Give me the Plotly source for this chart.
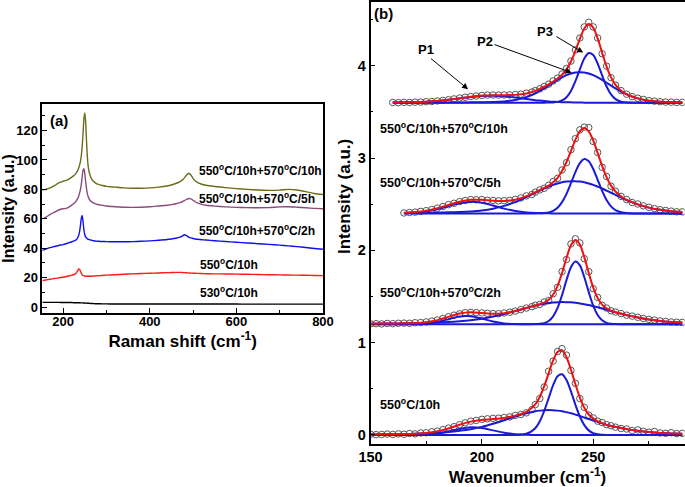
import plotly.graph_objects as go

# ================= Panel (a): Raman spectra =================
raman_shift = [152, 160, 170, 180, 190, 200, 205, 210, 215, 220, 224, 228, 230, 232, 234, 236, 238, 240,
               242, 244, 246, 248, 250, 252, 254, 256, 258, 260, 263, 266, 270, 275, 280, 290, 300, 320,
               340, 360, 380, 400, 420, 440, 450, 460, 470, 475, 480, 485, 490, 495, 500, 505, 510, 520,
               530, 550, 575, 600, 625, 650, 675, 700, 720, 740, 760, 780, 800]

int_530_10h = [3.2, 3.2, 3.2, 3.2, 3.2, 3.1, 3.1, 3.1, 3.1, 3.1, 3.0, 3.0, 3.0, 3.0, 3.0, 3.0, 3.0, 2.9,
               2.9, 2.9, 2.8, 2.8, 2.8, 2.7, 2.7, 2.6, 2.6, 2.6, 2.5, 2.5, 2.4, 2.3, 2.3, 2.2, 2.2, 2.1,
               2.1, 2.1, 2.1, 2.1, 2.1, 2.1, 2.1, 2.1, 2.1, 2.1, 2.1, 2.1, 2.1, 2.1, 2.1, 2.1, 2.1, 2.1,
               2.1, 2.1, 2.1, 2.1, 2.0, 2.0, 2.0, 2.0, 2.0, 2.0, 2.0, 2.0, 2.0]

int_550_10h = [18.0, 18.4, 18.9, 19.4, 19.9, 20.3, 20.6, 21.0, 21.3, 21.7, 22.0, 22.6, 23.1, 24.0, 25.0, 25.9, 25.7, 24.4,
               23.0, 22.0, 21.5, 21.2, 21.1, 21.0, 21.0, 21.0, 21.0, 21.0, 21.0, 21.0, 21.1, 21.2, 21.3, 21.5, 21.7, 22.0,
               22.3, 22.6, 22.8, 23.0, 23.2, 23.4, 23.5, 23.6, 23.6, 23.5, 23.4, 23.3, 23.2, 23.1, 23.0, 23.0, 22.9, 22.8,
               22.7, 22.6, 22.5, 22.4, 22.3, 22.2, 22.0, 21.9, 21.8, 21.7, 21.6, 21.5, 21.4]

int_570_2h = [38.5, 39.4, 40.4, 41.2, 41.9, 42.5, 42.9, 43.4, 43.9, 44.4, 44.9, 45.4, 45.8, 46.4, 47.3, 48.8, 51.3, 55.5,
              60.5, 62.2, 58.0, 52.5, 49.3, 47.7, 46.9, 46.4, 46.1, 45.9, 45.6, 45.4, 45.1, 44.9, 44.8, 44.6, 44.5, 44.4,
              44.4, 44.5, 44.7, 45.0, 45.4, 45.9, 46.3, 46.8, 47.6, 48.3, 49.2, 48.6, 47.6, 47.0, 46.6, 46.3, 46.1, 45.8,
              45.6, 45.1, 44.6, 44.1, 43.6, 43.1, 42.6, 42.1, 41.6, 41.1, 40.5, 39.8, 39.3]

int_570_5h = [60.0, 61.0, 63.0, 64.5, 66.0, 66.8, 67.0, 67.5, 68.3, 69.3, 70.2, 71.2, 72.0, 73.0, 74.0, 75.5, 77.5, 80.0,
              83.5, 88.5, 93.0, 94.0, 91.0, 85.5, 80.5, 77.0, 75.0, 73.5, 72.3, 71.5, 70.8, 70.2, 69.7, 69.2, 68.7, 68.2,
              67.9, 67.8, 67.9, 68.2, 68.7, 69.2, 69.6, 70.2, 71.0, 71.6, 72.4, 73.2, 73.8, 73.5, 72.6, 71.6, 70.8, 69.8,
              69.2, 68.6, 68.1, 67.8, 67.6, 67.5, 67.6, 68.1, 68.2, 67.9, 67.5, 67.1, 66.8]

int_570_10h = [79.5, 80.0, 81.0, 82.5, 84.5, 85.5, 86.0, 86.5, 87.3, 88.3, 89.2, 90.2, 91.0, 92.0, 93.0, 94.5, 96.5, 99.0,
               103.0, 109.0, 118.0, 128.0, 132.0, 126.0, 113.0, 102.0, 95.5, 92.0, 89.0, 87.0, 85.5, 84.3, 83.5, 82.7, 82.0, 81.5,
               81.0, 80.8, 80.8, 81.0, 81.5, 82.3, 83.0, 84.0, 85.3, 86.3, 87.8, 89.8, 91.0, 89.8, 87.5, 85.8, 84.8, 83.5,
               82.8, 82.0, 81.2, 80.5, 80.0, 79.6, 79.3, 79.5, 80.0, 79.6, 78.5, 77.2, 76.5]

labels_a = ["530<sup>o</sup>C/10h", "550<sup>o</sup>C/10h", "550<sup>o</sup>C/10h+570<sup>o</sup>C/2h",
            "550<sup>o</sup>C/10h+570<sup>o</sup>C/5h", "550<sup>o</sup>C/10h+570<sup>o</sup>C/10h"]
label_a_x = [512, 512, 510, 508, 508]
label_a_y = [10.2, 29.3, 52.4, 74.1, 93.2]

# ================= Panel (b): fitted peaks =================
wavenumber = [150, 155, 160, 165, 170, 175, 180, 185, 190, 195, 200, 205, 210, 215, 220,
              224, 226, 228, 230, 232, 234, 236, 238, 240, 242, 244, 246, 248, 250, 252, 254, 256, 258, 260,
              263, 266, 270, 275, 280, 285, 290]

offsets_b = [0.0, 1.2, 2.4, 3.6]

# 550C/10h
p1_550 = [0, 0, 0, 0, 0.001, 0.005, 0.017, 0.039, 0.066, 0.083, 0.075, 0.050, 0.025, 0.009, 0.002,
          0.001, 0, 0, 0, 0, 0, 0, 0, 0, 0, 0, 0, 0, 0, 0, 0, 0, 0, 0,
          0, 0, 0, 0, 0, 0, 0]
p2_550 = [0.006, 0.007, 0.008, 0.010, 0.013, 0.017, 0.023, 0.032, 0.045, 0.062, 0.088, 0.122, 0.160, 0.201, 0.236,
          0.257, 0.264, 0.269, 0.270, 0.269, 0.264, 0.257, 0.247, 0.236, 0.221, 0.206, 0.189, 0.172, 0.160, 0.141, 0.126, 0.110, 0.097, 0.088,
          0.072, 0.058, 0.045, 0.032, 0.023, 0.017, 0.013]
p3_550 = [0, 0, 0, 0, 0, 0, 0, 0, 0, 0, 0, 0, 0, 0, 0.013,
          0.074, 0.148, 0.260, 0.400, 0.539, 0.636, 0.657, 0.595, 0.472, 0.328, 0.200, 0.107, 0.050, 0.020, 0.007, 0.002, 0, 0, 0,
          0, 0, 0, 0, 0, 0, 0]
fit_550 = [0.006, 0.007, 0.008, 0.010, 0.014, 0.022, 0.040, 0.071, 0.111, 0.145, 0.163, 0.172, 0.185, 0.210, 0.251,
           0.332, 0.412, 0.529, 0.670, 0.808, 0.900, 0.918, 0.842, 0.708, 0.549, 0.406, 0.296, 0.222, 0.180, 0.148, 0.128, 0.110, 0.097, 0.088,
           0.072, 0.058, 0.045, 0.032, 0.023, 0.017, 0.013]

# 550C/10h + 570C/2h
p1_2h = [0, 0, 0, 0, 0.001, 0.007, 0.024, 0.055, 0.084, 0.087, 0.061, 0.029, 0.009, 0.002, 0,
         0, 0, 0, 0, 0, 0, 0, 0, 0, 0, 0, 0, 0, 0, 0, 0, 0, 0, 0,
         0, 0, 0, 0, 0, 0, 0]
p2_2h = [0.006, 0.007, 0.008, 0.010, 0.012, 0.015, 0.019, 0.024, 0.032, 0.043, 0.060, 0.083, 0.111, 0.142, 0.176,
         0.201, 0.212, 0.221, 0.229, 0.235, 0.238, 0.240, 0.239, 0.237, 0.232, 0.225, 0.217, 0.207, 0.195, 0.183, 0.170, 0.156, 0.142, 0.128,
         0.111, 0.093, 0.072, 0.051, 0.035, 0.025, 0.018]
p3_2h = [0, 0, 0, 0, 0, 0, 0, 0, 0, 0, 0, 0, 0, 0, 0,
         0.001, 0.004, 0.012, 0.035, 0.085, 0.177, 0.315, 0.478, 0.617, 0.679, 0.637, 0.509, 0.347, 0.201, 0.100, 0.042, 0.015, 0.005, 0.001,
         0, 0, 0, 0, 0, 0, 0]
fit_2h = [0.006, 0.007, 0.008, 0.010, 0.013, 0.022, 0.043, 0.079, 0.116, 0.130, 0.121, 0.112, 0.120, 0.144, 0.176,
          0.202, 0.216, 0.233, 0.264, 0.320, 0.415, 0.555, 0.717, 0.854, 0.911, 0.862, 0.726, 0.554, 0.396, 0.283, 0.212, 0.171, 0.147, 0.129,
          0.111, 0.093, 0.072, 0.051, 0.035, 0.025, 0.018]

# 550C/10h + 570C/5h
p1_5h = [None, None, None, 0.003, 0.009, 0.022, 0.047, 0.080, 0.111, 0.125, 0.115, 0.085, 0.052, 0.026, 0.010,
         0.004, 0.003, 0.002, 0.001, 0, 0, 0, 0, 0, 0, 0, 0, 0, 0, 0, 0, 0, 0, 0,
         0, 0, 0, 0, 0, 0, 0]
p2_5h = [None, None, None, 0.005, 0.006, 0.007, 0.009, 0.012, 0.016, 0.022, 0.032, 0.051, 0.082, 0.123, 0.177,
         0.224, 0.247, 0.270, 0.290, 0.309, 0.324, 0.337, 0.345, 0.349, 0.349, 0.345, 0.337, 0.324, 0.309, 0.290, 0.270, 0.247, 0.224, 0.201,
         0.166, 0.134, 0.098, 0.063, 0.039, 0.024, 0.016]
p3_5h = [None, None, None, 0, 0, 0, 0, 0, 0, 0, 0, 0, 0, 0, 0,
         0, 0.001, 0.004, 0.011, 0.028, 0.062, 0.122, 0.212, 0.327, 0.448, 0.545, 0.589, 0.565, 0.481, 0.364, 0.244, 0.146, 0.077, 0.036,
         0.009, 0.002, 0, 0, 0, 0, 0]
fit_5h = [None, None, None, 0.008, 0.015, 0.029, 0.056, 0.092, 0.127, 0.147, 0.147, 0.136, 0.134, 0.149, 0.187,
          0.228, 0.251, 0.276, 0.302, 0.337, 0.386, 0.459, 0.557, 0.676, 0.797, 0.890, 0.926, 0.889, 0.790, 0.654, 0.514, 0.393, 0.301, 0.237,
          0.175, 0.136, 0.098, 0.063, 0.039, 0.024, 0.016]

# 550C/10h + 570C/10h
p1_10h = [None, None, 0.001, 0.002, 0.004, 0.009, 0.017, 0.030, 0.046, 0.061, 0.072, 0.075, 0.068, 0.055, 0.039,
          0.027, 0.022, 0.017, 0.013, 0.010, 0.008, 0.005, 0.004, 0.003, 0.002, 0.001, 0, 0, 0, 0, 0, 0, 0, 0,
          0, 0, 0, 0, 0, 0, 0]
p2_10h = [None, None, 0.001, 0.001, 0.001, 0.001, 0.001, 0.002, 0.002, 0.003, 0.004, 0.006, 0.013, 0.029, 0.060,
          0.101, 0.127, 0.155, 0.185, 0.215, 0.246, 0.273, 0.297, 0.315, 0.326, 0.330, 0.326, 0.315, 0.297, 0.273, 0.246, 0.215, 0.185, 0.155,
          0.113, 0.079, 0.046, 0.021, 0.009, 0.004, 0.002]
p3_10h = [None, None, 0, 0, 0, 0, 0, 0, 0, 0, 0, 0, 0, 0, 0,
          0, 0, 0, 0.001, 0.002, 0.008, 0.024, 0.059, 0.127, 0.232, 0.360, 0.477, 0.537, 0.516, 0.423, 0.295, 0.175, 0.089, 0.038,
          0.008, 0.001, 0, 0, 0, 0, 0]
fit_10h = [None, None, 0.002, 0.003, 0.005, 0.010, 0.018, 0.032, 0.048, 0.064, 0.076, 0.081, 0.081, 0.084, 0.099,
           0.128, 0.149, 0.172, 0.199, 0.227, 0.262, 0.302, 0.360, 0.445, 0.560, 0.691, 0.803, 0.852, 0.813, 0.696, 0.541, 0.390, 0.274, 0.193,
           0.121, 0.080, 0.046, 0.021, 0.009, 0.004, 0.002]

# measured points (open circles)
wavenumber_meas = [150, 152.5, 155, 157.5, 160, 162.5, 165, 167.5, 170, 172.5, 175, 177.5, 180, 182.5, 185, 187.5,
                   190, 192.5, 195, 197.5, 200, 202.5, 205, 207.5, 210, 212.5, 215, 217.5, 220, 222.5,
                   224, 226, 228, 230, 232, 234, 236, 238, 240, 242, 244, 246, 248, 250, 252, 254, 256, 258, 260,
                   262.5, 265, 267.5, 270, 272.5, 275, 277.5, 280, 282.5, 285, 287.5, 290]

meas_550 = [0.008, 0.004, 0.006, 0.010, 0.006, 0.012, 0.008, 0.016, 0.012, 0.022, 0.024, 0.035, 0.042, 0.058, 0.075, 0.090,
            0.112, 0.132, 0.150, 0.158, 0.170, 0.175, 0.180, 0.182, 0.190, 0.196, 0.212, 0.222, 0.240, 0.275,
            0.330, 0.395, 0.520, 0.690, 0.800, 0.905, 0.935, 0.865, 0.700, 0.560, 0.395, 0.300, 0.215, 0.185, 0.150, 0.135, 0.112, 0.100, 0.085,
            0.070, 0.065, 0.048, 0.055, 0.040, 0.030, 0.038, 0.022, 0.018, 0.025, 0.015, 0.018]
meas_2h = [0.004, 0.006, 0.003, 0.008, 0.006, 0.010, 0.012, 0.010, 0.016, 0.018, 0.025, 0.034, 0.045, 0.062, 0.080, 0.098,
           0.112, 0.125, 0.128, 0.126, 0.122, 0.118, 0.115, 0.114, 0.122, 0.130, 0.142, 0.158, 0.175, 0.190,
           0.205, 0.214, 0.240, 0.255, 0.330, 0.400, 0.570, 0.700, 0.870, 0.925, 0.880, 0.710, 0.570, 0.385, 0.290, 0.205, 0.175, 0.145, 0.132,
           0.115, 0.098, 0.088, 0.075, 0.062, 0.052, 0.045, 0.036, 0.030, 0.024, 0.022, 0.020]
meas_5h = [None, None, None, None, None, None, 0.005, 0.010, 0.014, 0.022, 0.030, 0.042, 0.058, 0.075, 0.095, 0.110,
           0.128, 0.140, 0.150, 0.148, 0.150, 0.142, 0.140, 0.136, 0.138, 0.142, 0.152, 0.168, 0.190, 0.205,
           0.230, 0.255, 0.272, 0.305, 0.345, 0.380, 0.470, 0.550, 0.690, 0.810, 0.905, 0.935, 0.930, 0.780, 0.660, 0.500, 0.400, 0.295, 0.240,
           0.185, 0.150, 0.118, 0.102, 0.082, 0.066, 0.052, 0.040, 0.032, 0.025, 0.018, 0.017]
meas_10h = [None, None, None, None, 0.002, 0.000, 0.003, 0.002, 0.005, 0.006, 0.010, 0.012, 0.018, 0.024, 0.032, 0.040,
            0.050, 0.058, 0.066, 0.072, 0.078, 0.082, 0.083, 0.082, 0.083, 0.084, 0.088, 0.092, 0.102, 0.115,
            0.130, 0.150, 0.175, 0.200, 0.235, 0.265, 0.310, 0.370, 0.450, 0.570, 0.700, 0.820, 0.870, 0.820, 0.700, 0.530, 0.395, 0.270, 0.190,
            0.130, 0.092, 0.065, 0.048, 0.035, 0.022, 0.016, 0.010, 0.006, 0.005, 0.002, 0.003]

labels_b = ["550<sup>o</sup>C/10h", "550<sup>o</sup>C/10h+570<sup>o</sup>C/2h",
            "550<sup>o</sup>C/10h+570<sup>o</sup>C/5h", "550<sup>o</sup>C/10h+570<sup>o</sup>C/10h"]
label_b_y = [0.336, 1.549, 2.741, 3.326]

peak_names = ["P1", "P2", "P3"]
peak_label_x = [174.8, 201.3, 228.2]
peak_label_y = [4.171, 4.261, 4.37]
arrow_tail_x = [176.5, 205.0, 232.8]
arrow_tail_y = [4.09, 4.235, 4.325]
arrow_head_x = [193.8, 240.3, 245.5]
arrow_head_y = [3.745, 3.925, 4.142]

# ================= Build figure =================
FONT = "Liberation Sans"
fig = go.Figure()

colors_a = ["#000000", "#ff1a1a", "#1010ee", "#8a4a7c", "#6b6b1a"]
series_a = [int_530_10h, int_550_10h, int_570_2h, int_570_5h, int_570_10h]
for ys, col in zip(series_a, colors_a):
    fig.add_trace(go.Scatter(x=raman_shift, y=ys, mode="lines",
                             line=dict(color=col, width=1.4, shape="spline", smoothing=0.6),
                             xaxis="x", yaxis="y", showlegend=False, hoverinfo="skip"))

def shifted(vals, off):
    return [None if v is None else v + off for v in vals]

meas_sets = [meas_550, meas_2h, meas_5h, meas_10h]
comp_sets = [[p1_550, p2_550, p3_550], [p1_2h, p2_2h, p3_2h], [p1_5h, p2_5h, p3_5h], [p1_10h, p2_10h, p3_10h]]
fit_sets = [fit_550, fit_2h, fit_5h, fit_10h]

for meas, comps, fit, off in zip(meas_sets, comp_sets, fit_sets, offsets_b):
    fig.add_trace(go.Scatter(x=wavenumber_meas, y=shifted(meas, off), mode="markers",
                             marker=dict(symbol="circle-open", size=6.5, color="#555555", line=dict(width=1)),
                             xaxis="x2", yaxis="y2", showlegend=False, hoverinfo="skip"))
    for comp in comps:
        fig.add_trace(go.Scatter(x=wavenumber, y=shifted(comp, off), mode="lines",
                                 line=dict(color="#1a1ad6", width=2, shape="spline", smoothing=0.8),
                                 xaxis="x2", yaxis="y2", showlegend=False, hoverinfo="skip"))
    fig.add_trace(go.Scatter(x=wavenumber, y=shifted(fit, off), mode="lines",
                             line=dict(color="#ee1111", width=2, shape="spline", smoothing=0.8),
                             xaxis="x2", yaxis="y2", showlegend=False, hoverinfo="skip"))

annotations = []
for txt, xx, yy in zip(labels_a, label_a_x, label_a_y):
    annotations.append(dict(text=txt, x=xx, y=yy, xref="x", yref="y", xanchor="left", yanchor="middle",
                            showarrow=False, font=dict(family=FONT, size=12, color="black", weight="bold")))
annotations.append(dict(text="(a)", x=166, y=126.5, xref="x", yref="y", xanchor="left", yanchor="middle",
                        showarrow=False, font=dict(family=FONT, size=15, color="black", weight="bold")))

for txt, yy in zip(labels_b, label_b_y):
    annotations.append(dict(text=txt, x=153.5, y=yy, xref="x2", yref="y2", xanchor="left", yanchor="middle",
                            showarrow=False, font=dict(family=FONT, size=12.5, color="black", weight="bold")))
annotations.append(dict(text="(b)", x=150.6, y=4.57, xref="x2", yref="y2", xanchor="left", yanchor="middle",
                        showarrow=False, font=dict(family=FONT, size=15, color="black", weight="bold")))
for name, lx, ly in zip(peak_names, peak_label_x, peak_label_y):
    annotations.append(dict(text=name, x=lx, y=ly, xref="x2", yref="y2", xanchor="center", yanchor="middle",
                            showarrow=False, font=dict(family=FONT, size=13, color="black", weight="bold")))
for tx, ty, hx, hy in zip(arrow_tail_x, arrow_tail_y, arrow_head_x, arrow_head_y):
    annotations.append(dict(text="", x=hx, y=hy, ax=tx, ay=ty, xref="x2", yref="y2", axref="x2", ayref="y2",
                            showarrow=True, arrowhead=2, arrowsize=1.2, arrowwidth=1, arrowcolor="black"))
annotations.append(dict(text="Intensity (a.u.)", x=345 / 685, y=1 - 197 / 487, xref="paper", yref="paper",
                        textangle=-90, showarrow=False, xanchor="center", yanchor="middle",
                        font=dict(family=FONT, size=17, color="black", weight="bold")))

axis_common = dict(showline=True, linecolor="black", linewidth=1.5, mirror=True, showgrid=False,
                   zeroline=False, ticks="inside", ticklen=5, tickwidth=1.2, tickcolor="black",
                   automargin=False)

fig.update_layout(
    width=685, height=487, autosize=False,
    margin=dict(l=0, r=0, t=0, b=0),
    paper_bgcolor="white", plot_bgcolor="white",
    font=dict(family=FONT, color="black"),
    xaxis=dict(domain=[0.0618, 0.4715], range=[152, 800], anchor="y", tick0=0, dtick=200,
               minor=dict(ticks="inside", ticklen=3, dtick=100, tick0=0, tickcolor="black"),
               tickfont=dict(family=FONT, size=13, color="black", weight="bold"),
               ticklabelstandoff=-4,
               title=dict(text="Raman shift (cm<sup>-1</sup>)", standoff=0,
                          font=dict(family=FONT, size=17, color="black", weight="bold")),
               **axis_common),
    yaxis=dict(domain=[0.3573, 0.7864], range=[-4, 138], anchor="x", tick0=0, dtick=20,
               minor=dict(ticks="inside", ticklen=3, dtick=10, tick0=0, tickcolor="black"),
               tickfont=dict(family=FONT, size=13, color="black", weight="bold"),
               title=dict(text="Intensity (a.u.)", standoff=1,
                          font=dict(family=FONT, size=16, color="black", weight="bold")),
               **axis_common),
    xaxis2=dict(domain=[0.5409, 0.9993], range=[150, 291], anchor="y2", tick0=0, dtick=50,
                minor=dict(ticks="inside", ticklen=3, dtick=25, tick0=0, tickcolor="black"),
                tickfont=dict(family=FONT, size=14.5, color="black", weight="bold"),
                ticklabelstandoff=-1,
                title=dict(text="Wavenumber (cm<sup>-1</sup>)", standoff=0,
                           font=dict(family=FONT, size=17, color="black", weight="bold")),
                **axis_common),
    yaxis2=dict(domain=[0.0883, 0.9959], range=[-0.0975, 4.69], anchor="x2", tick0=0, dtick=1,
                minor=dict(ticks="inside", ticklen=3, dtick=0.5, tick0=0, tickcolor="black"),
                tickfont=dict(family=FONT, size=14.5, color="black", weight="bold"),
                **axis_common),
    annotations=annotations,
)

fig.write_html("out.html", config={"displayModeBar": False},
               post_script="document.body.style.margin='0px';document.body.style.overflow='hidden';")
